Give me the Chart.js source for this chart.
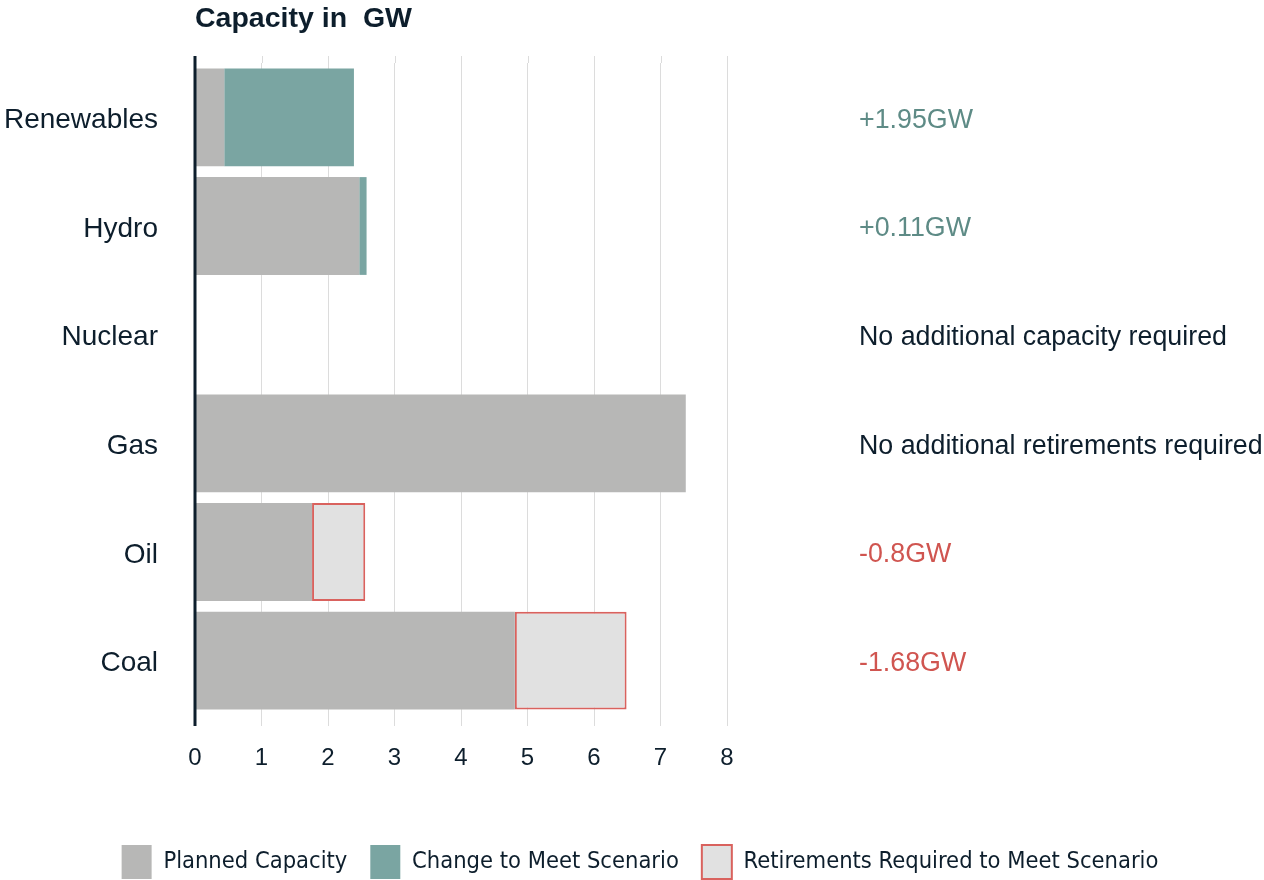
<!DOCTYPE html>
<html>
<head>
<meta charset="utf-8">
<script src="https://cdn.jsdelivr.net/npm/chart.js@4"></script>
<style>
  html, body { margin: 0; padding: 0; background: #fff; overflow: hidden; }
  #wrap { width: 1264px; height: 880px; }
</style>
</head>
<body>
<div id="wrap"><canvas id="chart" width="1264" height="880"></canvas></div>
<script>
// categories and values (GW)
var categories = ['Renewables', 'Hydro', 'Nuclear', 'Gas', 'Oil', 'Coal'];
var planned = [0.44, 2.47, null, 7.38, 1.76, 4.81];
var change = [1.95, 0.11, null, null, null, null];
var retirements = [null, null, null, null, 0.8, 1.68];
var xTicks = [0, 1, 2, 3, 4, 5, 6, 7, 8];
var notes = ['+1.95GW', '+0.11GW', 'No additional capacity required',
             'No additional retirements required', '-0.8GW', '-1.68GW'];
var noteKinds = ['up', 'up', 'none', 'none', 'down', 'down'];

var dark = '#0d1e2c';
var noteColors = { up: '#5e8b86', down: '#d05550', none: dark };

Chart.defaults.font.family = "'Liberation Sans', Arial, sans-serif";
Chart.defaults.color = dark;

// title, axis line and side notes
var extras = {
  id: 'extras',
  beforeDatasetsDraw: function (chart) {
    var ctx = chart.ctx, a = chart.chartArea, x = chart.scales.x;
    ctx.save();
    ctx.strokeStyle = '#dcdcdc';
    ctx.lineWidth = 1;
    for (var i = 1; i < xTicks.length; i++) {
      var px = Math.round(x.getPixelForValue(xTicks[i])) + 0.5;
      ctx.beginPath();
      ctx.moveTo(px, a.top - 7);
      ctx.lineTo(px, a.top);
      ctx.stroke();
    }
    ctx.restore();
  },
  afterDraw: function (chart) {
    var ctx = chart.ctx, a = chart.chartArea, y = chart.scales.y;
    ctx.save();
    ctx.strokeStyle = dark;
    ctx.lineWidth = 3;
    ctx.beginPath();
    ctx.moveTo(a.left, a.top - 7);
    ctx.lineTo(a.left, a.bottom + 11);
    ctx.stroke();

    ctx.fillStyle = dark;
    ctx.font = "bold 28.5px 'Liberation Sans', Arial, sans-serif";
    ctx.textBaseline = 'middle';
    ctx.textAlign = 'left';
    ctx.fillText('Capacity in  GW', a.left, 19);

    ctx.font = "26.8px 'Liberation Sans', Arial, sans-serif";
    for (var i = 0; i < notes.length; i++) {
      ctx.fillStyle = noteColors[noteKinds[i]];
      ctx.fillText(notes[i], 859, y.getPixelForValue(i) + 3);
    }
    ctx.restore();
  }
};

new Chart(document.getElementById('chart').getContext('2d'), {
  type: 'bar',
  data: {
    labels: categories,
    datasets: [{
      label: 'Planned Capacity',
      data: planned,
      backgroundColor: '#b7b7b6',
      borderWidth: 0
    }, {
      label: 'Change to Meet Scenario',
      data: change,
      backgroundColor: '#7aa5a2',
      borderWidth: 0
    }, {
      label: 'Retirements Required to Meet Scenario',
      data: retirements,
      backgroundColor: '#e1e1e1',
      borderColor: '#d9625e',
      borderWidth: 2,
      borderSkipped: false
    }]
  },
  options: {
    indexAxis: 'y',
    responsive: false,
    animation: false,
    datasets: { bar: { categoryPercentage: 1, barPercentage: 0.9 } },
    layout: { padding: { top: 63, left: 0, right: -16, bottom: -9 } },
    scales: {
      x: {
        stacked: true,
        min: 0,
        max: 8,
        afterBuildTicks: function (s) { s.ticks = xTicks.map(function (v) { return { value: v }; }); },
        ticks: { font: { size: 24 }, color: dark, padding: 18 },
        grid: { color: '#dcdcdc', tickLength: 11, lineWidth: function (c) { return c.tick && c.tick.value === 0 ? 0 : 1; } },
        border: { display: false },
        afterFit: function (s) { s.height = 107; }
      },
      y: {
        stacked: true,
        ticks: { font: { size: 28 }, color: dark, padding: 37, labelOffset: 3 },
        grid: { display: false, drawTicks: false },
        border: { display: false },
        afterFit: function (s) { s.width = 195; }
      },
      yr: {
        type: 'category',
        labels: categories,
        position: 'right',
        ticks: { display: false },
        grid: { display: false, drawTicks: false },
        border: { display: false },
        afterFit: function (s) { s.width = 553; }
      }
    },
    plugins: {
      tooltip: { enabled: false },
      legend: {
        position: 'bottom',
        labels: {
          boxWidth: 30,
          boxHeight: 34,
          padding: 23,
          color: dark,
          font: { family: "'DejaVu Sans Condensed', 'DejaVu Sans', sans-serif", size: 23.5 }
        }
      }
    }
  },
  plugins: [extras]
});
</script>
</body>
</html>
